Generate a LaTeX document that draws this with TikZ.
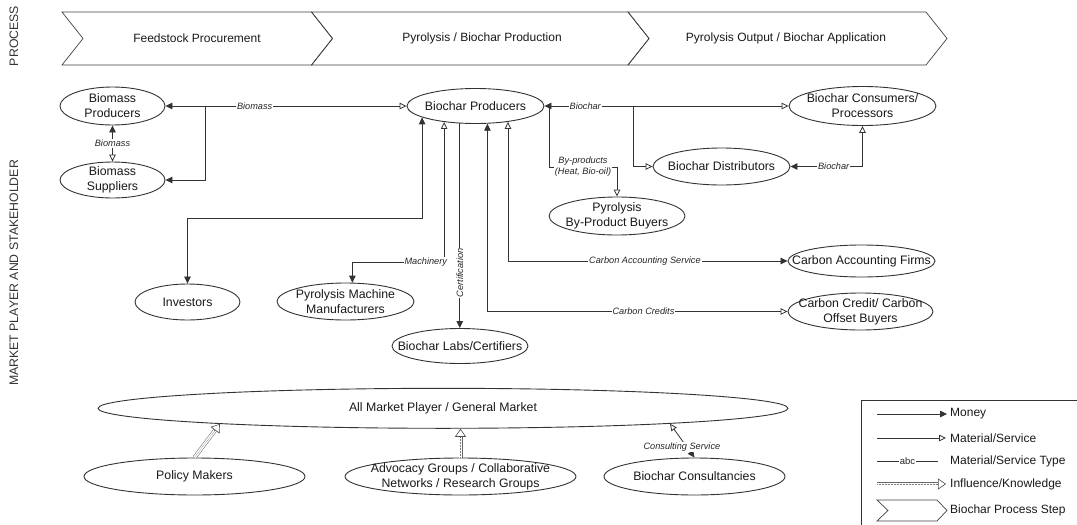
\documentclass[tikz,border=0pt]{standalone}
\usepackage{fontspec}
\setmainfont{Liberation Sans}
\usetikzlibrary{shapes.geometric, arrows.meta, calc}

\tikzset{
  money/.tip={Triangle[length=7pt,width=6.5pt]},
  mat/.tip={Triangle[open,length=7pt,width=6.5pt]},
  ell/.style={ellipse, draw=black!80, line width=0.9pt, fill=white, inner sep=0pt},
  txt/.style={font=\fontsize{12.3}{15}\selectfont, align=center, text=black!90, inner sep=0pt},
  conn/.style={draw=black!80, line width=0.8pt},
  elab/.style={font=\itshape\fontsize{9.2}{11}\selectfont, fill=white, inner sep=1pt, text=black!85, align=center},
  abcl/.style={font=\fontsize{9.5}{11}\selectfont, fill=white, inner sep=1pt, text=black!85},
  chev/.style={draw=black!75, line width=0.7pt},
  chevtxt/.style={font=\fontsize{12}{14}\selectfont, text=black!90},
  side/.style={font=\fontsize{12.3}{14}\selectfont, text=black!80, rotate=90},
  legtxt/.style={font=\fontsize{12}{14}\selectfont, text=black!90, anchor=west, inner sep=0pt},
  inflshaft/.style={draw=black!60, line width=0.5pt, double=white, double distance=3pt, shorten >=8pt},
  infldots/.style={draw=black!50, line width=0.6pt, dash pattern=on 0.6pt off 0.9pt, shorten >=8pt},
  inflhead/.style={draw=black!70, line width=0.6pt, -{Triangle[open, length=8pt, width=11pt]}},
}

\newcommand{\inflconn}[2]{%
  \draw[inflshaft] (#1) -- (#2);
  \draw[infldots] (#1) -- (#2);
  \draw[inflhead] ($(#2)!9pt!(#1)$) -- (#2);
}

\begin{document}
\begin{tikzpicture}[x=1pt, y=-1pt]
\useasboundingbox (0,0) rectangle (1077,525);

% side labels
\node[side] (sP) at (14,36) {PROCESS};
\node[side] (sM) at (14,273) {MARKET PLAYER AND STAKEHOLDER};

% process chevrons
\draw[chev] (62,12) -- (311.5,12) -- (332.5,38.5) -- (311.5,65) -- (62,65) -- (83,38.5) -- cycle;
\draw[chev] (311.5,12) -- (628,12) -- (649,38.5) -- (628,65) -- (311.5,65) -- (332.5,38.5) -- cycle;
\draw[chev] (628,12) -- (926,12) -- (947,38.5) -- (926,65) -- (628,65) -- (649,38.5) -- cycle;
\node[chevtxt] (c1) at (197,38.5) {Feedstock Procurement};
\node[chevtxt] (c2) at (482,38.5) {Pyrolysis / Biochar Production};
\node[chevtxt] (c3) at (786,38.5) {Pyrolysis Output / Biochar Application};

% stakeholder nodes
\node[ell, minimum width=105pt, minimum height=38pt, label={[txt]center:{Biomass\\Producers}}] (bmp) at (112.5,106) {};
\node[ell, minimum width=105pt, minimum height=36pt, label={[txt]center:{Biomass\\Suppliers}}] (bms) at (112.5,180) {};
\node[ell, minimum width=137pt, minimum height=35pt, label={[txt]center:{Biochar Producers}}] (bp) at (475.5,106) {};
\node[ell, minimum width=147pt, minimum height=39pt, label={[txt]center:{Biochar Consumers/\\Processors}}] (cons) at (862.5,106) {};
\node[ell, minimum width=137pt, minimum height=37pt, label={[txt]center:{Biochar Distributors}}] (dist) at (721.5,166.5) {};
\node[ell, minimum width=136pt, minimum height=38pt, label={[txt]center:{Pyrolysis\\By-Product Buyers}}] (byp) at (617,216) {};
\node[ell, minimum width=147pt, minimum height=32pt, label={[txt]center:{Carbon Accounting Firms}}] (caf) at (861.5,261) {};
\node[ell, minimum width=145pt, minimum height=37pt, label={[txt]center:{Carbon Credit/ Carbon\\Offset Buyers}}] (ccb) at (860.5,311.5) {};
\node[ell, minimum width=105pt, minimum height=36pt, label={[txt]center:{Investors}}] (inv) at (187.5,302) {};
\node[ell, minimum width=137pt, minimum height=37pt, label={[txt]center:{Pyrolysis Machine\\Manufacturers}}] (mm) at (345.5,301.5) {};
\node[ell, minimum width=136pt, minimum height=35pt, label={[txt]center:{Biochar Labs/Certifiers}}] (labs) at (460,346) {};
\node[ell, minimum width=690pt, minimum height=40pt, label={[txt]center:{All Market Player / General Market}}] (gm) at (443,408.3) {};
\node[ell, minimum width=221pt, minimum height=37pt, label={[txt]center:{Policy Makers}}] (pm) at (194.5,476.5) {};
\node[ell, minimum width=231pt, minimum height=37pt, label={[txt]center:{Advocacy Groups / Collaborative\\Networks / Research Groups}}] (adv) at (460.5,476.5) {};
\node[ell, minimum width=181pt, minimum height=37pt, label={[txt]center:{Biochar Consultancies}}] (bc) at (694.5,476.5) {};

% junctions
\coordinate (jB) at (205,106);
\coordinate (jD) at (633,106);
\coordinate (jP) at (549,106);

% biomass flows
\draw[conn, money-mat] (bmp.east) -- node[elab, pos=0.37]{Biomass} (bp.west);
\draw[conn, -money] (jB) |- (bms.east);
\draw[conn, money-mat] (bmp.south) -- node[elab]{Biomass} (bms.north);

% investors
\draw[conn, money-money] (bp.192) -- (bp.192 |- 0,218) -| (inv.north);

% machinery
\draw[conn, mat-money] (bp.207) -- (bp.207 |- 0,262) -| node[elab, pos=0.1]{Machinery} (mm.70);

% certification
\draw[conn, -money] (bp.228) -- node[elab, rotate=90, pos=0.73]{Certification} (bp.228 |- labs.north);

% carbon
\draw[conn, money-mat] (bp.304) |- node[elab, pos=0.76]{Carbon Credits} (ccb.west);
\draw[conn, mat-money] (bp.334) |- node[elab, pos=0.745]{Carbon Accounting Service} (caf.west);

% biochar output
\draw[conn, money-mat] (bp.east) -- node[elab, pos=0.167]{Biochar} (cons.west);
\draw[conn, -mat] (jD) |- (dist.west);
\draw[conn, -mat] (jP) -- (jP |- 0,167) -| node[elab, pos=0.25]{By-products\\(Heat, Bio-oil)} (byp.north);
\draw[conn, mat-money] (cons.south) |- node[elab, pos=0.7]{Biochar} (dist.east);

% influence
\coordinate (advT) at (adv.north |- gm.south);
\inflconn{pm.north}{gm.184}
\inflconn{adv.north}{advT}

% consulting
\coordinate (gmC) at ($(gm.center)+(227,15.4)$);
\draw[conn, money-mat] (bc.north) -- node[elab, pos=0.31, xshift=-5pt]{Consulting Service} (gmC);

% legend
\draw[draw=black!80, line width=0.7pt] (861.5,535) -- (861.5,400.5) -- (1085,400.5);
\coordinate (lm1) at (877,414); \coordinate (lm2) at (947,414);
\coordinate (lo1) at (877,438); \coordinate (lo2) at (946,438);
\coordinate (la1) at (877,461); \coordinate (la2) at (938,461);
\coordinate (li1) at (877,484); \coordinate (li2) at (946,484);
\draw[conn, -money] (lm1) -- (lm2);
\draw[conn, -mat] (lo1) -- (lo2);
\draw[conn] (la1) -- node[abcl]{abc} (la2);
\inflconn{li1}{li2}
\draw[chev] (877,500) -- (937,500) -- (947,510.5) -- (937,521) -- (877,521) -- (888,510.5) -- cycle;
\node[legtxt] (lt1) at (950,414) {Money};
\node[legtxt] (lt2) at (950,438) {Material/Service};
\node[legtxt] (lt3) at (950,461) {Material/Service Type};
\node[legtxt] (lt4) at (950,484) {Influence/Knowledge};
\node[legtxt] (lt5) at (950,510.5) {Biochar Process Step};
\end{tikzpicture}
\end{document}
